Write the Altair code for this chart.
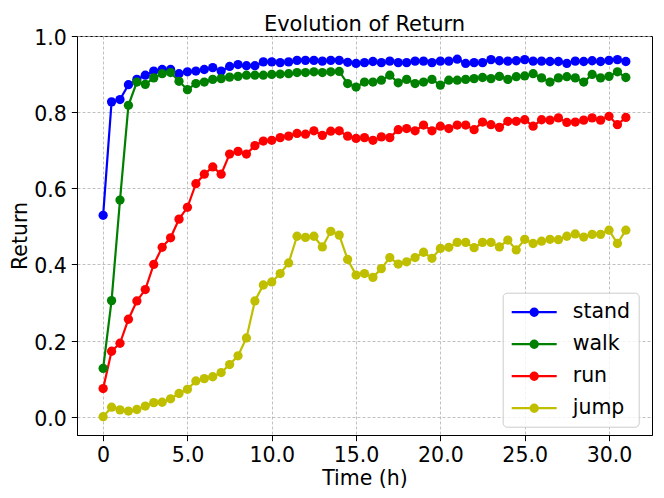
import altair as alt
import pandas as pd

hours = [0.0, 0.5, 1.0, 1.5, 2.0, 2.5, 3.0, 3.5, 4.0, 4.5, 5.0, 5.5, 6.0, 6.5, 7.0, 7.5,
         8.0, 8.5, 9.0, 9.5, 10.0, 10.5, 11.0, 11.5, 12.0, 12.5, 13.0, 13.5, 14.0, 14.5,
         15.0, 15.5, 16.0, 16.5, 17.0, 17.5, 18.0, 18.5, 19.0, 19.5, 20.0, 20.5, 21.0,
         21.5, 22.0, 22.5, 23.0, 23.5, 24.0, 24.5, 25.0, 25.5, 26.0, 26.5, 27.0, 27.5,
         28.0, 28.5, 29.0, 29.5, 30.0, 30.5, 31.0]

stand = [0.529, 0.827, 0.833, 0.872, 0.886, 0.897, 0.908, 0.912, 0.912, 0.901, 0.906,
         0.908, 0.912, 0.917, 0.908, 0.920, 0.925, 0.922, 0.922, 0.932, 0.932, 0.930,
         0.932, 0.936, 0.936, 0.936, 0.934, 0.936, 0.936, 0.931, 0.928, 0.930, 0.933,
         0.930, 0.934, 0.930, 0.930, 0.934, 0.934, 0.930, 0.934, 0.934, 0.939, 0.928,
         0.930, 0.930, 0.938, 0.935, 0.934, 0.935, 0.938, 0.934, 0.934, 0.933, 0.933,
         0.928, 0.934, 0.933, 0.935, 0.933, 0.936, 0.938, 0.933]

walk = [0.127, 0.305, 0.569, 0.818, 0.879, 0.873, 0.890, 0.901, 0.904, 0.881, 0.859,
        0.875, 0.879, 0.886, 0.888, 0.892, 0.894, 0.897, 0.897, 0.897, 0.899, 0.900,
        0.901, 0.904, 0.904, 0.906, 0.904, 0.906, 0.907, 0.875, 0.866, 0.879, 0.879,
        0.884, 0.897, 0.877, 0.886, 0.875, 0.879, 0.886, 0.871, 0.884, 0.884, 0.886,
        0.888, 0.891, 0.888, 0.894, 0.886, 0.893, 0.895, 0.901, 0.890, 0.879, 0.890,
        0.893, 0.890, 0.879, 0.899, 0.890, 0.894, 0.906, 0.891]

run = [0.074, 0.172, 0.193, 0.256, 0.304, 0.334, 0.400, 0.445, 0.470, 0.519, 0.550,
       0.612, 0.637, 0.656, 0.637, 0.690, 0.697, 0.690, 0.712, 0.724, 0.726, 0.733,
       0.737, 0.744, 0.742, 0.751, 0.739, 0.750, 0.751, 0.737, 0.731, 0.733, 0.726,
       0.735, 0.733, 0.754, 0.757, 0.751, 0.766, 0.751, 0.763, 0.757, 0.766, 0.766,
       0.754, 0.774, 0.767, 0.760, 0.776, 0.776, 0.780, 0.763, 0.780, 0.779, 0.785,
       0.773, 0.774, 0.779, 0.785, 0.779, 0.789, 0.767, 0.786]

jump = [0.000, 0.025, 0.018, 0.015, 0.019, 0.028, 0.037, 0.038, 0.047, 0.061, 0.072,
        0.094, 0.100, 0.105, 0.116, 0.137, 0.160, 0.207, 0.304, 0.346, 0.354, 0.376,
        0.404, 0.474, 0.471, 0.474, 0.446, 0.487, 0.477, 0.413, 0.372, 0.376, 0.366,
        0.389, 0.418, 0.401, 0.407, 0.418, 0.432, 0.416, 0.442, 0.445, 0.458, 0.458,
        0.444, 0.458, 0.458, 0.446, 0.464, 0.438, 0.466, 0.455, 0.461, 0.466, 0.465,
        0.474, 0.480, 0.472, 0.479, 0.479, 0.490, 0.455, 0.490]

series_names = ["stand", "walk", "run", "jump"]
series_colors = ["#0000ff", "#008000", "#ff0000", "#bfbf00"]
x_ticks = [0, 5, 10, 15, 20, 25, 30]
y_ticks = [0.0, 0.2, 0.4, 0.6, 0.8, 1.0]

rows = []
for name, vals in zip(series_names, [stand, walk, run, jump]):
    for t, v in zip(hours, vals):
        rows.append({"time": t, "ret": v, "task": name})
df = pd.DataFrame(rows)

FONT = "DejaVu Sans"

# legend symbol: horizontal line with a filled dot (concentric rings fill the dot)
rings = "".join(
    f"M{r},0A{r},{r} 0 1,1 -{r},0A{r},{r} 0 1,1 {r},0Z" for r in [0.1, 0.2, 0.3, 0.36]
)
symbol_path = "M-2.25,0L2.25,0" + rings

chart = (
    alt.Chart(df)
    .mark_line(
        strokeWidth=2.2,
        point=alt.OverlayMarkDef(filled=True, size=86, opacity=1),
    )
    .encode(
        x=alt.X(
            "time:Q",
            title="Time (h)",
            scale=alt.Scale(domain=[-1.55, 32.55], nice=False, zero=False),
            axis=alt.Axis(
                values=x_ticks,
                labelExpr="datum.value == 0 ? '0' : format(datum.value, '.1f')",
                titlePadding=2,
            ),
        ),
        y=alt.Y(
            "ret:Q",
            title="Return",
            scale=alt.Scale(domain=[-0.048, 1.0], nice=False, zero=False),
            axis=alt.Axis(values=y_ticks, format=".1f", titlePadding=3, labelOffset=2.5),
        ),
        color=alt.Color(
            "task:N",
            scale=alt.Scale(domain=series_names, range=series_colors),
            legend=alt.Legend(
                title=None,
                orient="none",
                legendX=425.7,
                legendY=256.7,
                symbolType=symbol_path,
                symbolSize=400,
                symbolStrokeWidth=2.2,
                symbolOpacity=1,
                symbolOffset=12,
                labelOffset=27,
                labelFontSize=20.5,
                labelFont=FONT,
                labelColor="black",
                labelLimit=0,
                rowPadding=10,
                padding=8,
                strokeColor="#cccccc",
                fillColor="rgba(255,255,255,0.8)",
                cornerRadius=4,
            ),
        ),
    )
    .properties(
        width=575,
        height=399,
        title=alt.TitleParams(
            "Evolution of Return",
            fontSize=21,
            font=FONT,
            fontWeight="normal",
            color="black",
            anchor="middle",
            offset=8,
            dy=14,
        ),
        autosize=alt.AutoSizeParams(type="none"),
        padding={"left": 69, "top": 28, "right": 4, "bottom": 55},
    )
    .configure_view(stroke="black", strokeWidth=1)
    .configure_axis(
        labelFont=FONT,
        labelFontSize=20.5,
        labelColor="black",
        labelPadding=5,
        titleFont=FONT,
        titleFontSize=20.5,
        titleFontWeight="normal",
        titleColor="black",
        tickColor="black",
        tickSize=5.7,
        tickWidth=1,
        domainColor="black",
        domainWidth=1,
        grid=True,
        gridColor="#b0b0b0",
        gridDash=[3, 2],
        gridWidth=0.8,
        gridOpacity=1,
    )
)

chart.save("out.html", embed_options={"renderer": "svg", "actions": False})
